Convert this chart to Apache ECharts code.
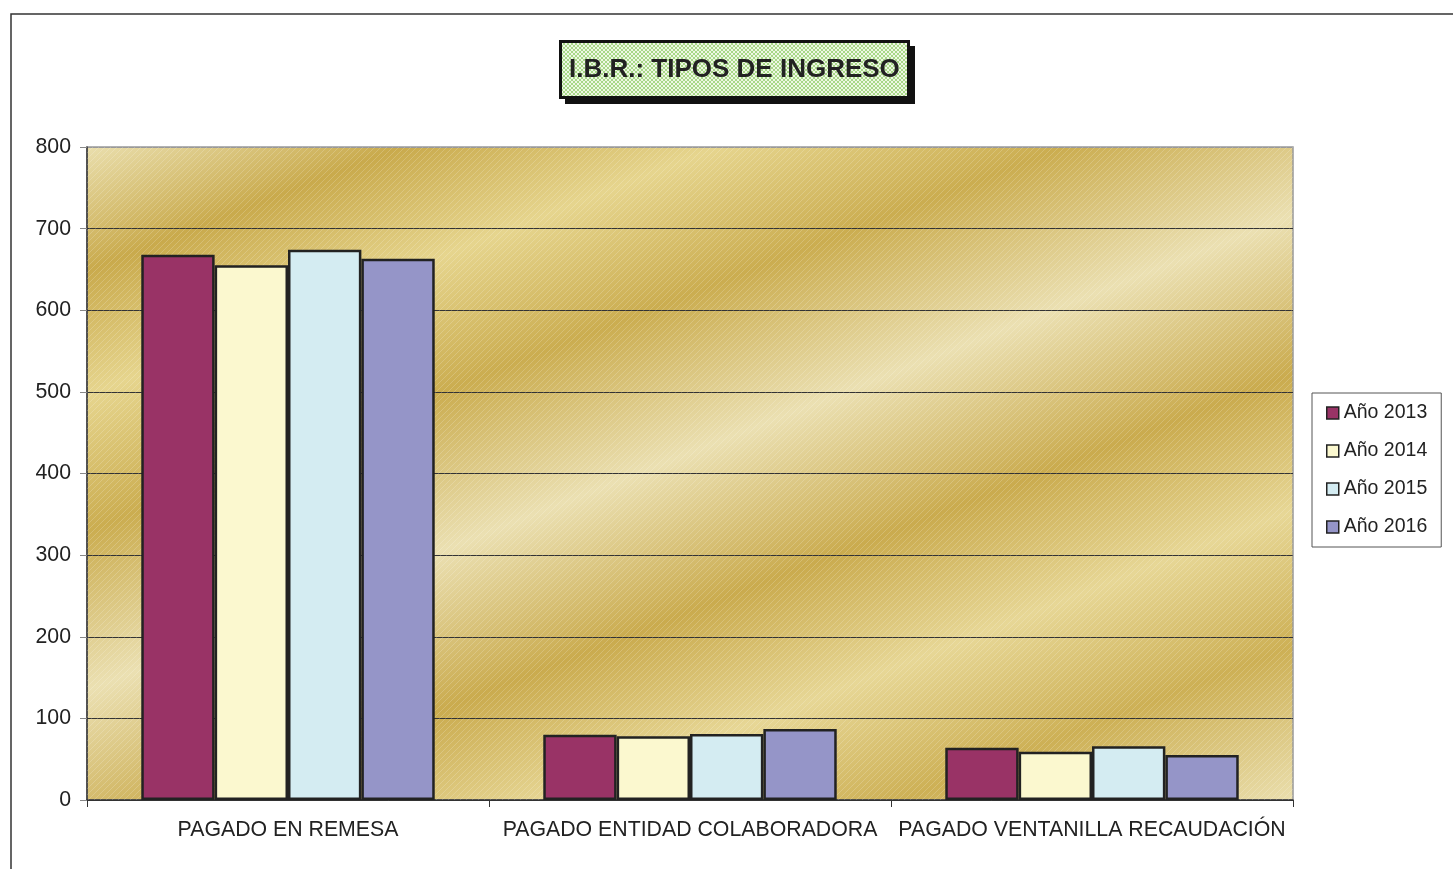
<!DOCTYPE html>
<html>
<head>
<meta charset="utf-8">
<script src="https://cdn.jsdelivr.net/npm/echarts@6/dist/echarts.min.js"></script>
<style>
	html, body { margin: 0; padding: 0; background: #fff; }
	#chart { width: 1453px; height: 869px; }
</style>
</head>
<body>
<div id="chart"></div>
<script>
	// datos del grafico
	var categorias = ['PAGADO EN REMESA', 'PAGADO ENTIDAD COLABORADORA', 'PAGADO VENTANILLA RECAUDACIÓN'];
	var anios = ['Año 2013', 'Año 2014', 'Año 2015', 'Año 2016'];
	var valores2013 = [668, 80, 64];
	var valores2014 = [655, 78, 59];
	var valores2015 = [674, 81, 66];
	var valores2016 = [663, 87, 55];
	var colores = ['#993366', '#fbf8cf', '#d4ecf2', '#9595c8'];
	var yTicks = [0, 100, 200, 300, 400, 500, 600, 700, 800];

	// trama de puntos verdes para el titulo
	function dotPattern() {
		var c = document.createElement('canvas');
		c.width = 4; c.height = 4;
		var g = c.getContext('2d');
		g.fillStyle = '#eef8e4';
		g.fillRect(0, 0, 4, 4);
		g.fillStyle = '#a8d888';
		g.fillRect(0, 0, 2, 2);
		g.fillRect(2, 2, 2, 2);
		return c;
	}

	// rayado fino diagonal sobre el fondo
	function stripePattern() {
		var c = document.createElement('canvas');
		c.width = 6; c.height = 6;
		var g = c.getContext('2d');
		g.strokeStyle = 'rgba(255,255,255,0.18)';
		g.lineWidth = 1;
		g.beginPath();
		g.moveTo(0, 6); g.lineTo(6, 0);
		g.moveTo(-1, 1); g.lineTo(1, -1);
		g.moveTo(5, 7); g.lineTo(7, 5);
		g.stroke();
		return c;
	}

	// fondo dorado del area de trazado
	var fondo = new echarts.graphic.LinearGradient(0, 0, 0.32, 1.5, [
		{ offset: 0.00, color: '#eadfae' },
		{ offset: 0.11, color: '#c9aa4c' },
		{ offset: 0.22, color: '#e6d58e' },
		{ offset: 0.34, color: '#cbad50' },
		{ offset: 0.48, color: '#ebe0b2' },
		{ offset: 0.62, color: '#caab4e' },
		{ offset: 0.74, color: '#e7d796' },
		{ offset: 0.86, color: '#cdb055' },
		{ offset: 1.00, color: '#ebe0b0' }
	]);

	var datos = [valores2013, valores2014, valores2015, valores2016];
	var series = [];
	for (var i = 0; i < anios.length; i++) {
		series.push({
			name: anios[i],
			type: 'bar',
			data: datos[i],
			barGap: 0,
			barCategoryGap: '27%',
			itemStyle: { color: colores[i], borderColor: '#222', borderWidth: 2.5 }
		});
	}

	var chart = echarts.init(document.getElementById('chart'));
	chart.setOption({
		animation: false,
		textStyle: { fontFamily: 'Liberation Sans, Arial, sans-serif' },
		title: {
			text: 'I.B.R.: TIPOS DE INGRESO',
			left: 560,
			top: 41,
			padding: [16, 9, 15, 9],
			backgroundColor: { image: dotPattern(), repeat: 'repeat' },
			borderColor: '#111',
			borderWidth: 3,
			textStyle: { fontSize: 26, fontWeight: 'bold', color: '#222', fontFamily: 'Liberation Sans, Arial, sans-serif' }
		},
		graphic: [
			{ type: 'rect', z: 0, shape: { x: 11, y: 14, width: 1470, height: 880 }, style: { fill: 'none', stroke: '#333', lineWidth: 1.5 } },
			{ type: 'rect', z: 1, shape: { x: 565, y: 46, width: 350, height: 58 }, style: { fill: '#111' } },
			{ type: 'rect', z: 1, silent: true, shape: { x: 87, y: 147, width: 1206, height: 653 }, style: { fill: { image: stripePattern(), repeat: 'repeat' } } }
		],
		legend: {
			orient: 'vertical',
			left: 1312,
			top: 393,
			padding: [10, 14, 10, 14],
			itemGap: 18,
			itemWidth: 12,
			itemHeight: 12,
			icon: 'rect',
			borderColor: '#555',
			borderWidth: 1,
			backgroundColor: '#fff',
			itemStyle: { borderColor: '#222', borderWidth: 1.5 },
			textStyle: { fontSize: 19.5, lineHeight: 20, color: '#222' },
			data: anios
		},
		grid: {
			left: 87, right: 160, top: 147, bottom: 69,
			show: true,
			backgroundColor: fondo,
			borderColor: '#999',
			borderWidth: 1.5
		},
		xAxis: {
			type: 'category',
			data: categorias,
			axisLine: { lineStyle: { color: '#333', width: 1.5 } },
			axisTick: { show: true, length: 7, lineStyle: { color: '#333' } },
			axisLabel: { interval: 0, fontSize: 21.3, color: '#222', margin: 20 }
		},
		yAxis: {
			type: 'value',
			min: yTicks[0],
			max: yTicks[yTicks.length - 1],
			interval: 100,
			axisLine: { show: true, lineStyle: { color: '#333', width: 1.5 } },
			axisTick: { show: true, length: 7, lineStyle: { color: '#888' } },
			axisLabel: { fontSize: 21.3, color: '#222', margin: 16 },
			splitLine: { lineStyle: { color: ['#333', '#333', '#333', '#333', '#333', '#333', '#333', '#333', '#999'], width: 1 } }
		},
		series: series
	});
</script>
</body>
</html>
